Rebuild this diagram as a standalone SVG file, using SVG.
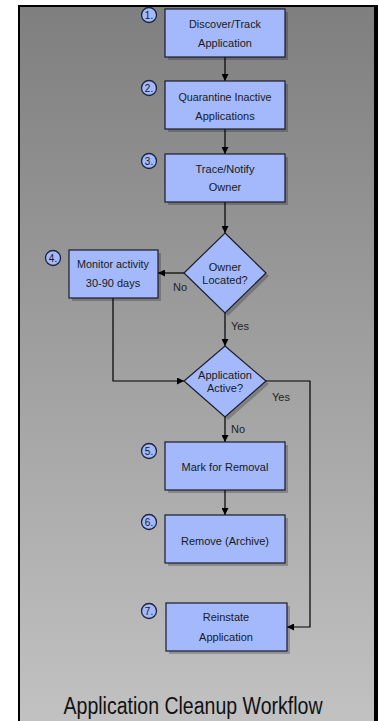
<svg xmlns="http://www.w3.org/2000/svg" width="378" height="721" viewBox="0 0 378 721">
<defs>
<linearGradient id="bg" x1="0" y1="0" x2="0" y2="1">
<stop offset="0" stop-color="#7f7f7f"/>
<stop offset="1" stop-color="#c2c2c2"/>
</linearGradient>
<marker id="ah" viewBox="0 0 10 10" refX="10" refY="5" markerWidth="7" markerHeight="7" markerUnits="userSpaceOnUse" orient="auto">
<path d="M0,0 L10,5 L0,10 z" fill="#000"/>
</marker>
<style>
.box{fill:#a3b9fb;stroke:#1c1c2c;stroke-width:1.2}
.sh{fill:#000;opacity:0.22}
.num{fill:#a3b9fb;stroke:#1c2440;stroke-width:1.3}
.t{font-family:"Liberation Sans",Arial,sans-serif;font-size:11px;fill:#1a1a1a;text-anchor:middle}
.n{font-family:"Liberation Sans",Arial,sans-serif;font-size:10px;fill:#1a1a1a;text-anchor:middle}
.lbl{font-family:"Liberation Sans",Arial,sans-serif;font-size:11px;fill:#222;text-anchor:middle}
.c{fill:none;stroke:#000;stroke-width:1.2}
</style>
</defs>
<rect x="0" y="0" width="378" height="721" fill="#fff"/>
<rect x="19" y="6" width="356" height="720" fill="url(#bg)" stroke="#000" stroke-width="2"/>
<rect x="374" y="5" width="4" height="716" fill="#000"/>

<g id="connectors">
<line class="c" x1="225" y1="57" x2="225" y2="81" marker-end="url(#ah)"/>
<line class="c" x1="225" y1="129" x2="225" y2="154" marker-end="url(#ah)"/>
<line class="c" x1="225" y1="202" x2="225" y2="233" marker-end="url(#ah)"/>
<line class="c" x1="184" y1="273" x2="158" y2="273" marker-end="url(#ah)"/>
<line class="c" x1="225" y1="313" x2="225" y2="346" marker-end="url(#ah)"/>
<polyline class="c" points="113,298 113,381 184,381" marker-end="url(#ah)"/>
<polyline class="c" points="266,381 310,381 310,627 287,627" marker-end="url(#ah)"/>
<line class="c" x1="225" y1="417" x2="225" y2="442" marker-end="url(#ah)"/>
<line class="c" x1="225" y1="490" x2="225" y2="515" marker-end="url(#ah)"/>
<text class="lbl" x="180" y="291">No</text>
<text class="lbl" x="240" y="330">Yes</text>
<text class="lbl" x="281" y="401">Yes</text>
<text class="lbl" x="238" y="433">No</text>
</g>

<g id="n1">
<rect class="sh" x="168" y="12" width="120" height="48"/>
<rect class="box" x="165" y="9" width="120" height="48"/>
<text class="t" x="225" y="28" textLength="72" lengthAdjust="spacingAndGlyphs">Discover/Track</text>
<text class="t" x="225" y="47">Application</text>
<circle class="num" cx="149" cy="15" r="7.5"/>
<text class="n" x="149" y="18.5">1.</text>
</g>

<g id="n2">
<rect class="sh" x="168" y="84" width="120" height="48"/>
<rect class="box" x="165" y="81" width="120" height="48"/>
<text class="t" x="225" y="100.5" textLength="93" lengthAdjust="spacingAndGlyphs">Quarantine Inactive</text>
<text class="t" x="225" y="119.5">Applications</text>
<circle class="num" cx="149" cy="88" r="7.5"/>
<text class="n" x="149" y="91.5">2.</text>
</g>

<g id="n3">
<rect class="sh" x="168" y="157" width="120" height="48"/>
<rect class="box" x="165" y="154" width="120" height="48"/>
<text class="t" x="225" y="173">Trace/Notify</text>
<text class="t" x="225" y="191">Owner</text>
<circle class="num" cx="149" cy="161" r="7.5"/>
<text class="n" x="149" y="164.5">3.</text>
</g>

<g id="d1">
<polygon class="sh" points="228,236 269,276 228,316 187,276"/>
<polygon class="box" points="225,233 266,273 225,313 184,273"/>
<text class="t" x="225" y="271">Owner</text>
<text class="t" x="225" y="284">Located?</text>
</g>

<g id="n4">
<rect class="sh" x="72" y="253" width="89" height="48"/>
<rect class="box" x="69" y="250" width="89" height="48"/>
<text class="t" x="113" y="268" textLength="72" lengthAdjust="spacingAndGlyphs">Monitor activity</text>
<text class="t" x="113" y="287">30-90 days</text>
<circle class="num" cx="53" cy="258" r="7.5"/>
<text class="n" x="53" y="261.5">4.</text>
</g>

<g id="d2">
<polygon class="sh" points="228,349 269,384 228,420 187,384"/>
<polygon class="box" points="225,346 266,381 225,417 184,381"/>
<text class="t" x="225" y="379">Application</text>
<text class="t" x="225" y="392">Active?</text>
</g>

<g id="n5">
<rect class="sh" x="168" y="445" width="120" height="48"/>
<rect class="box" x="165" y="442" width="120" height="48"/>
<text class="t" x="225" y="470.5">Mark for Removal</text>
<circle class="num" cx="149" cy="451" r="7.5"/>
<text class="n" x="149" y="454.5">5.</text>
</g>

<g id="n6">
<rect class="sh" x="168" y="518" width="120" height="48"/>
<rect class="box" x="165" y="515" width="120" height="48"/>
<text class="t" x="225" y="544.5">Remove (Archive)</text>
<circle class="num" cx="149" cy="522" r="7.5"/>
<text class="n" x="149" y="525.5">6.</text>
</g>

<g id="n7">
<rect class="sh" x="169" y="606" width="121" height="48"/>
<rect class="box" x="166" y="603" width="121" height="48"/>
<text class="t" x="226" y="621" font-size="10.6">Reinstate</text>
<text class="t" x="226" y="640.5" font-size="10.6">Application</text>
<circle class="num" cx="149" cy="611" r="7.5"/>
<text class="n" x="149" y="614.5">7.</text>
</g>

<text x="193" y="714" font-family="'Liberation Sans',Arial,sans-serif" font-size="23" fill="#111" text-anchor="middle" textLength="259" lengthAdjust="spacingAndGlyphs">Application Cleanup Workflow</text>
</svg>
